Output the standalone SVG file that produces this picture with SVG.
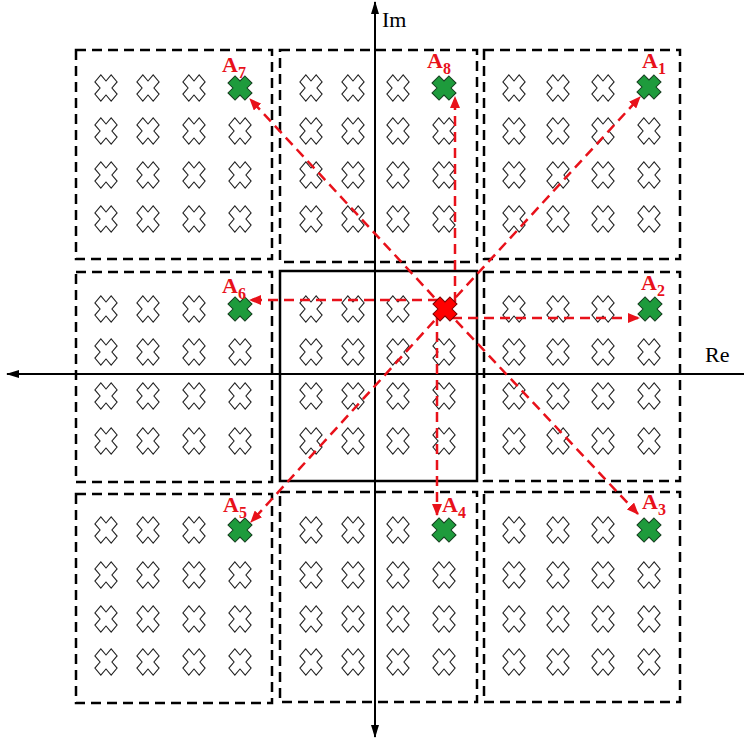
<svg xmlns="http://www.w3.org/2000/svg" xmlns:xlink="http://www.w3.org/1999/xlink" width="744" height="740" viewBox="0 0 744 740">
<style>
.box{fill:none;stroke:#000;stroke-width:2.5;stroke-dasharray:10 6}
.solid{fill:none;stroke:#000;stroke-width:2.5}
.axis{stroke:#000;stroke-width:2;fill:none}
.c{fill:#fff;stroke:#222;stroke-width:1.1;vector-effect:non-scaling-stroke}
.g{fill:#1e9b3c;stroke:#143d1e;stroke-width:1}
.r{fill:#f00;stroke:#7a0000;stroke-width:1}
.arr{stroke:#e8111a;stroke-width:2.5;stroke-dasharray:10 6;fill:none;marker-end:url(#ah)}
.lab{font-family:"Liberation Serif",serif;font-weight:bold;font-size:22px;fill:#e8111a}
.sub{font-size:16px}
.ax{font-family:"Liberation Serif",serif;font-size:22px;fill:#000}
</style>
<defs>
<polygon id="x" class="c" points="-4.2,-11.5 4.2,-11.5 4.2,-4.2 11.5,-4.2 11.5,4.2 4.2,4.2 4.2,11.5 -4.2,11.5 -4.2,4.2 -11.5,4.2 -11.5,-4.2 -4.2,-4.2" transform="scale(1,1.18) rotate(45)"/>
<polygon id="xg" class="g" points="-5,-12 5,-12 5,-5 12,-5 12,5 5,5 5,12 -5,12 -5,5 -12,5 -12,-5 -5,-5" transform="rotate(45)"/>
<polygon id="xr" class="r" points="-5,-12 5,-12 5,-5 12,-5 12,5 5,5 5,12 -5,12 -5,5 -12,5 -12,-5 -5,-5" transform="rotate(45)"/>
<marker id="ah" markerWidth="12" markerHeight="10" refX="11" refY="5" orient="auto" markerUnits="userSpaceOnUse"><path d="M0,0 L12,5 L0,10 z" fill="#e8111a"/></marker>
<marker id="ak" markerWidth="13" markerHeight="8" refX="12" refY="4" orient="auto" markerUnits="userSpaceOnUse"><path d="M0,0 L13,4 L0,8 z" fill="#000"/></marker>
</defs>

<g id="axes">
<line class="axis" x1="375" y1="372" x2="375" y2="2" marker-end="url(#ak)"/>
<line class="axis" x1="375" y1="372" x2="375" y2="737" marker-end="url(#ak)"/>
<line class="axis" x1="375" y1="374" x2="7" y2="374" marker-end="url(#ak)"/>
<line class="axis" x1="375" y1="374" x2="744" y2="374"/>
<text class="ax" x="382" y="27">Im</text>
<text class="ax" x="705" y="362">Re</text>
</g>

<g id="box-top-left">
<rect class="box" x="76" y="50" width="196" height="209"/>
<use href="#x" x="106" y="88"/><use href="#x" x="148" y="88"/><use href="#x" x="194" y="88"/>
<use href="#x" x="106" y="131"/><use href="#x" x="148" y="131"/><use href="#x" x="194" y="131"/><use href="#x" x="240" y="131"/>
<use href="#x" x="106" y="175"/><use href="#x" x="148" y="175"/><use href="#x" x="194" y="175"/><use href="#x" x="240" y="175"/>
<use href="#x" x="106" y="219"/><use href="#x" x="148" y="219"/><use href="#x" x="194" y="219"/><use href="#x" x="240" y="219"/>
</g>
<g id="box-top-mid">
<rect class="box" x="280" y="50" width="197" height="212"/>
<use href="#x" x="311" y="88"/><use href="#x" x="353" y="88"/><use href="#x" x="398" y="88"/>
<use href="#x" x="311" y="131"/><use href="#x" x="353" y="131"/><use href="#x" x="398" y="131"/><use href="#x" x="444" y="131"/>
<use href="#x" x="311" y="175"/><use href="#x" x="353" y="175"/><use href="#x" x="398" y="175"/><use href="#x" x="444" y="175"/>
<use href="#x" x="311" y="219"/><use href="#x" x="353" y="219"/><use href="#x" x="398" y="219"/><use href="#x" x="444" y="219"/>
</g>
<g id="box-top-right">
<rect class="box" x="484" y="50" width="196" height="209"/>
<use href="#x" x="514" y="88"/><use href="#x" x="558" y="88"/><use href="#x" x="603" y="88"/>
<use href="#x" x="514" y="131"/><use href="#x" x="558" y="131"/><use href="#x" x="603" y="131"/><use href="#x" x="649" y="131"/>
<use href="#x" x="514" y="175"/><use href="#x" x="558" y="175"/><use href="#x" x="603" y="175"/><use href="#x" x="649" y="175"/>
<use href="#x" x="514" y="219"/><use href="#x" x="558" y="219"/><use href="#x" x="603" y="219"/><use href="#x" x="649" y="219"/>
</g>

<g id="box-mid-left">
<rect class="box" x="76" y="272" width="196" height="210"/>
<use href="#x" x="106" y="309"/><use href="#x" x="148" y="309"/><use href="#x" x="194" y="309"/>
<use href="#x" x="106" y="352"/><use href="#x" x="148" y="352"/><use href="#x" x="194" y="352"/><use href="#x" x="240" y="352"/>
<use href="#x" x="106" y="396"/><use href="#x" x="148" y="396"/><use href="#x" x="194" y="396"/><use href="#x" x="240" y="396"/>
<use href="#x" x="106" y="441"/><use href="#x" x="148" y="441"/><use href="#x" x="194" y="441"/><use href="#x" x="240" y="441"/>
</g>
<g id="box-center">
<rect class="solid" x="280" y="271" width="197" height="210"/>
<use href="#x" x="311" y="309"/><use href="#x" x="353" y="309"/><use href="#x" x="398" y="309"/>
<use href="#x" x="311" y="352"/><use href="#x" x="353" y="352"/><use href="#x" x="398" y="352"/><use href="#x" x="444" y="352"/>
<use href="#x" x="311" y="396"/><use href="#x" x="353" y="396"/><use href="#x" x="398" y="396"/><use href="#x" x="444" y="396"/>
<use href="#x" x="311" y="441"/><use href="#x" x="353" y="441"/><use href="#x" x="398" y="441"/><use href="#x" x="444" y="441"/>
</g>
<g id="box-mid-right">
<rect class="box" x="484" y="272" width="196" height="209"/>
<use href="#x" x="514" y="309"/><use href="#x" x="558" y="309"/><use href="#x" x="603" y="309"/>
<use href="#x" x="514" y="352"/><use href="#x" x="558" y="352"/><use href="#x" x="603" y="352"/><use href="#x" x="649" y="352"/>
<use href="#x" x="514" y="396"/><use href="#x" x="558" y="396"/><use href="#x" x="603" y="396"/><use href="#x" x="649" y="396"/>
<use href="#x" x="514" y="441"/><use href="#x" x="558" y="441"/><use href="#x" x="603" y="441"/><use href="#x" x="649" y="441"/>
</g>

<g id="box-bot-left">
<rect class="box" x="76" y="494" width="196" height="209"/>
<use href="#x" x="106" y="530"/><use href="#x" x="148" y="530"/><use href="#x" x="194" y="530"/>
<use href="#x" x="106" y="575"/><use href="#x" x="148" y="575"/><use href="#x" x="194" y="575"/><use href="#x" x="240" y="575"/>
<use href="#x" x="106" y="619"/><use href="#x" x="148" y="619"/><use href="#x" x="194" y="619"/><use href="#x" x="240" y="619"/>
<use href="#x" x="106" y="662"/><use href="#x" x="148" y="662"/><use href="#x" x="194" y="662"/><use href="#x" x="240" y="662"/>
</g>
<g id="box-bot-mid">
<rect class="box" x="280" y="492" width="197" height="210"/>
<use href="#x" x="311" y="530"/><use href="#x" x="353" y="530"/><use href="#x" x="398" y="530"/>
<use href="#x" x="311" y="575"/><use href="#x" x="353" y="575"/><use href="#x" x="398" y="575"/><use href="#x" x="444" y="575"/>
<use href="#x" x="311" y="619"/><use href="#x" x="353" y="619"/><use href="#x" x="398" y="619"/><use href="#x" x="444" y="619"/>
<use href="#x" x="311" y="662"/><use href="#x" x="353" y="662"/><use href="#x" x="398" y="662"/><use href="#x" x="444" y="662"/>
</g>
<g id="box-bot-right">
<rect class="box" x="484" y="492" width="196" height="210"/>
<use href="#x" x="514" y="530"/><use href="#x" x="558" y="530"/><use href="#x" x="603" y="530"/>
<use href="#x" x="514" y="575"/><use href="#x" x="558" y="575"/><use href="#x" x="603" y="575"/><use href="#x" x="649" y="575"/>
<use href="#x" x="514" y="619"/><use href="#x" x="558" y="619"/><use href="#x" x="603" y="619"/><use href="#x" x="649" y="619"/>
<use href="#x" x="514" y="662"/><use href="#x" x="558" y="662"/><use href="#x" x="603" y="662"/><use href="#x" x="649" y="662"/>
</g>

<g id="connectors">
<line class="arr" x1="445" y1="309" x2="640" y2="97"/>
<line class="arr" x1="452" y1="318" x2="639" y2="318"/>
<line class="arr" x1="445" y1="309" x2="638" y2="514"/>
<line class="arr" x1="437" y1="316" x2="437" y2="515"/>
<line class="arr" x1="445" y1="309" x2="251" y2="522"/>
<line class="arr" x1="438" y1="300" x2="250" y2="300"/>
<line class="arr" x1="445" y1="309" x2="250" y2="99"/>
<line class="arr" x1="455" y1="302" x2="455" y2="97"/>
</g>

<g id="center-point"><use href="#xr" x="445" y="309"/></g>
<g id="A1"><use href="#xg" x="649" y="87"/><text class="lab" x="642" y="68">A<tspan class="sub" dy="6">1</tspan></text></g>
<g id="A2"><use href="#xg" x="650" y="309"/><text class="lab" x="641" y="290">A<tspan class="sub" dy="6">2</tspan></text></g>
<g id="A3"><use href="#xg" x="649" y="530"/><text class="lab" x="642" y="509">A<tspan class="sub" dy="6">3</tspan></text></g>
<g id="A4"><use href="#xg" x="444" y="530"/><text class="lab" x="442" y="512">A<tspan class="sub" dy="6">4</tspan></text></g>
<g id="A5"><use href="#xg" x="240" y="530"/><text class="lab" x="223" y="512">A<tspan class="sub" dy="6">5</tspan></text></g>
<g id="A6"><use href="#xg" x="240" y="309"/><text class="lab" x="222" y="293">A<tspan class="sub" dy="6">6</tspan></text></g>
<g id="A7"><use href="#xg" x="240" y="88"/><text class="lab" x="222" y="72">A<tspan class="sub" dy="6">7</tspan></text></g>
<g id="A8"><use href="#xg" x="444" y="88"/><text class="lab" x="427" y="68">A<tspan class="sub" dy="6">8</tspan></text></g>
</svg>
